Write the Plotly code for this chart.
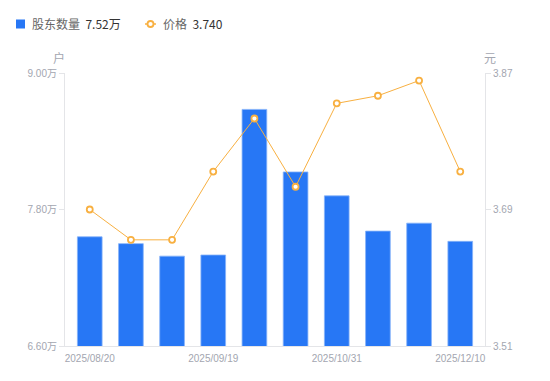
import plotly.graph_objects as go

dates = ["2025/08/20", "2025/08/29", "2025/09/10", "2025/09/19", "2025/09/30",
         "2025/10/20", "2025/10/31", "2025/11/10", "2025/11/20", "2025/12/10"]
holders = [7.56, 7.50, 7.39, 7.40, 8.68, 8.13, 7.92, 7.61, 7.68, 7.52]  # 万户
price = [3.69, 3.65, 3.65, 3.74, 3.81, 3.72, 3.83, 3.84, 3.86, 3.74]
x_tick_dates = ["2025/08/20", "2025/09/19", "2025/10/31", "2025/12/10"]
left_ticks = [6.6, 7.8, 9.0]
left_tick_text = ["6.60万", "7.80万", "9.00万"]
right_ticks = [3.51, 3.69, 3.87]
right_tick_text = ["3.51", "3.69", "3.87"]
holders_label = "股东数量"
price_label = "价格"
holders_latest = "7.52万"
price_latest = "3.740"

BLUE = "#2777F5"
ORANGE = "#F8B041"
GRAY = "#A3A6B0"
AXIS = "#E4E5E8"
TICKFONT = "Liberation Sans, Arial, Noto Sans CJK SC, sans-serif"

# plot area in pixels: x 65..485, y 73..346
L, R, T, B = 65, 485, 73, 346
def px(x):
    return (x - L) / (R - L)
def py(y):
    return (B - y) / (B - T)

fig = go.Figure()
fig.add_trace(go.Bar(
    x=dates, y=holders, name=holders_label,
    marker=dict(color=BLUE, line=dict(width=0.8, color="#86B2F9")), yaxis="y",
))
fig.add_trace(go.Scatter(
    x=dates, y=price, name=price_label,
    mode="lines+markers", yaxis="y2",
    line=dict(color=ORANGE, width=1),
    marker=dict(symbol="circle", size=6, color="white", line=dict(color=ORANGE, width=1.8)),
))

legend_font = dict(family="Noto Sans CJK SC, sans-serif", size=12, color="#666666")
shapes = [
    dict(type="rect", xref="paper", yref="paper", x0=px(16), x1=px(25), y0=py(28.5), y1=py(19.5),
         fillcolor=BLUE, line=dict(width=0)),
    dict(type="line", xref="paper", yref="paper", x0=px(145), x1=px(156), y0=py(24), y1=py(24),
         line=dict(color=ORANGE, width=1.5)),
    dict(type="circle", xref="paper", yref="paper", x0=px(147.5), x1=px(153.5), y0=py(27), y1=py(21),
         fillcolor="white", line=dict(color=ORANGE, width=1.8)),
]

annotations = [
    dict(text=f"{holders_label}  <span style='color:#333333'>{holders_latest}</span>",
         xref="paper", yref="paper", x=px(30), y=py(24), showarrow=False,
         xanchor="left", yanchor="middle", font=legend_font),
    dict(text=f"{price_label}  <span style='color:#333333'>{price_latest}</span>",
         xref="paper", yref="paper", x=px(161), y=py(24), showarrow=False,
         xanchor="left", yanchor="middle", font=legend_font),
    dict(text="户", xref="paper", yref="paper", x=px(59), y=py(57), showarrow=False,
         xanchor="center", yanchor="middle",
         font=dict(family="Noto Sans CJK SC, sans-serif", size=12, color=GRAY)),
    dict(text="元", xref="paper", yref="paper", x=px(490), y=py(57), showarrow=False,
         xanchor="center", yanchor="middle",
         font=dict(family="Noto Sans CJK SC, sans-serif", size=12, color=GRAY)),
]

fig.update_layout(
    width=550, height=381,
    margin=dict(l=L, r=550 - R, t=T, b=381 - B, autoexpand=False),
    paper_bgcolor="white", plot_bgcolor="white",
    font=dict(family=TICKFONT, size=10, color=GRAY),
    bargap=0.4,
    showlegend=False,
    xaxis=dict(type="category", tickmode="array", tickvals=x_tick_dates,
               ticktext=x_tick_dates, showgrid=False, showline=True, linecolor=AXIS,
               ticks="", tickfont=dict(size=10, color=GRAY), zeroline=False, automargin=False,
               ticklabelstandoff=3),
    yaxis=dict(range=[6.6, 9.0], tickmode="array", tickvals=left_ticks, ticktext=left_tick_text,
               showgrid=False, showline=True, linecolor=AXIS, ticks="outside", ticklen=5,
               tickcolor=AXIS, tickfont=dict(size=10, color=GRAY), zeroline=False, automargin=False),
    yaxis2=dict(range=[3.51, 3.87], overlaying="y", side="right", tickmode="array",
                tickvals=right_ticks, ticktext=right_tick_text, showgrid=False, showline=True,
                linecolor=AXIS, ticks="outside", ticklen=5, tickcolor=AXIS,
                tickfont=dict(size=10, color=GRAY), zeroline=False, automargin=False),
    shapes=shapes,
    annotations=annotations,
)

fig.write_html("out.html", config={"displayModeBar": False},
               post_script="document.body.style.margin='0';")
